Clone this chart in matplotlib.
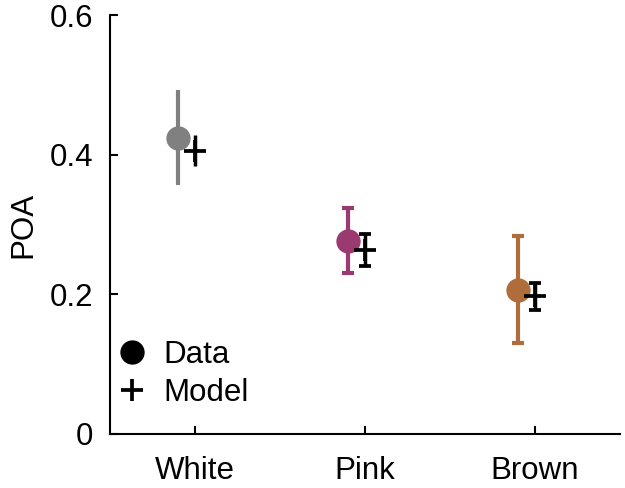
import matplotlib
matplotlib.use("Agg")
import matplotlib.pyplot as plt
from matplotlib.lines import Line2D

plt.rcParams["font.family"] = ["Liberation Sans", "DejaVu Sans"]

categories = ["White", "Pink", "Brown"]
colors = ["#808080", "#9b3a70", "#b06d3c"]
data_mean = [0.424, 0.277, 0.206]
data_lo = [0.356, 0.230, 0.130]
data_hi = [0.493, 0.324, 0.283]
model_mean = [0.406, 0.264, 0.197]
model_err = [0.022, 0.023, 0.019]
data_caps = [0, 4, 4]

FS = 22.5

fig = plt.figure(figsize=(6.25, 4.88), dpi=100)
ax = fig.add_axes([0.176, 0.111, 0.816, 0.858])

for i, name in enumerate(categories):
    x = i + 1
    ax.errorbar(x - 0.1, data_mean[i],
                yerr=[[data_mean[i] - data_lo[i]], [data_hi[i] - data_mean[i]]],
                fmt="o", color=colors[i], ms=16.5, elinewidth=3,
                capsize=data_caps[i], capthick=3, zorder=2)
    ax.errorbar(x, model_mean[i], yerr=model_err[i], fmt="+", color="black",
                ms=16.5, mew=2.7, elinewidth=2.5, capsize=4 if i else 0,
                capthick=2.5, zorder=3)

ax.set_xlim(0.5, 3.5)
ax.set_ylim(0, 0.6)
ax.set_xticks([1, 2, 3])
ax.set_xticklabels(categories)
ax.set_yticks([0, 0.2, 0.4, 0.6])
ax.set_yticklabels(["0", "0.2", "0.4", "0.6"])
ax.tick_params(direction="in", labelsize=FS, width=1.5, length=6)
ax.tick_params(axis="x", pad=16)
ax.tick_params(axis="y", pad=12)
for s in ["top", "right"]:
    ax.spines[s].set_visible(False)
for s in ["left", "bottom"]:
    ax.spines[s].set_linewidth(1.5)
ax.set_ylabel("POA", fontsize=FS, labelpad=8)

handles = [
    Line2D([], [], marker="o", color="black", ls="none", ms=16.5),
    Line2D([], [], marker="+", color="black", ls="none", ms=16.5, mew=2.7),
]
ax.legend(handles, ["Data", "Model"], loc="lower left", frameon=False,
          fontsize=FS, handlelength=1.0, handletextpad=0.5, labelspacing=0.25,
          borderpad=0, borderaxespad=0, bbox_to_anchor=(0.012, 0.062))

fig.savefig("out.png", dpi=100)
